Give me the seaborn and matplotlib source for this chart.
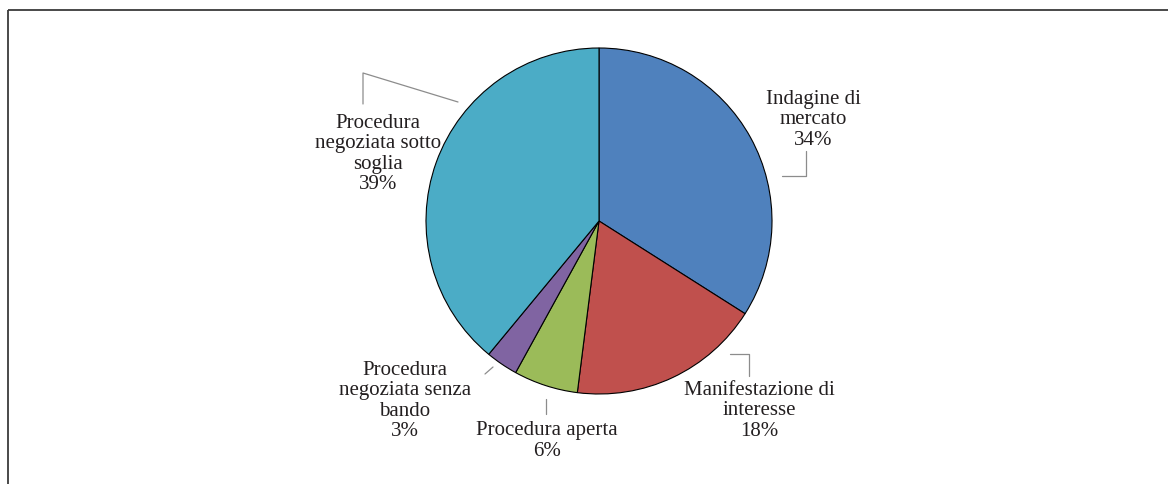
import matplotlib
matplotlib.use("Agg")
import matplotlib.pyplot as plt
import seaborn as sns

categories = ["Indagine di mercato", "Manifestazione di interesse", "Procedura aperta",
              "Procedura negoziata senza bando", "Procedura negoziata sotto soglia"]
values = [34, 18, 6, 3, 39]
label_lines = ["Indagine di\nmercato", "Manifestazione di\ninteresse", "Procedura aperta",
               "Procedura\nnegoziata senza\nbando", "Procedura\nnegoziata sotto\nsoglia"]
colors = ["#4F81BD", "#C0504D", "#9BBB59", "#8064A2", "#4BACC6"]

sns.set_theme(style="white")
plt.rcParams['font.family'] = ['Liberation Serif', 'DejaVu Serif']

W, H = 1168, 485
fig = plt.figure(figsize=(W / 100, H / 100), dpi=100)
ax = fig.add_axes([0, 0, 1, 1])

def Y(y):
    return H - y

ax.pie(values, colors=colors, startangle=90, counterclock=False,
       center=(599, Y(222)), radius=173,
       wedgeprops=dict(edgecolor="black", linewidth=0.8))
ax.set_xlim(0, W)
ax.set_ylim(0, H)
ax.set_aspect("equal")
ax.axis("off")

# label centres (pixel coords)
label_pos = [(813, 120), (759, 411), (547, 441), (405, 401), (378, 154)]
for txt, v, (x, y) in zip(label_lines, values, label_pos):
    ax.text(x, Y(y), f"{txt}\n{v}%", ha="center", va="center", fontsize=15,
            color="#231F20", linespacing=1.08)

# leader lines
leaders = [
    [(806, 152), (806, 177), (782, 177)],
    [(730, 355), (749, 355), (749, 377)],
    [(546, 400), (546, 415)],
    [(485, 375), (493, 368)],
    [(363, 105), (363, 74), (458, 103)],
]
for pts in leaders:
    xs = [p[0] for p in pts]
    ys = [Y(p[1]) for p in pts]
    ax.plot(xs, ys, color="#8C8C8C", linewidth=0.9)

# partial frame (top and left)
ax.plot([7.5, W], [Y(10.5), Y(10.5)], color="#3A3A3A", linewidth=1.3, solid_capstyle="butt")
ax.plot([7.5, 7.5], [Y(10.5), 0], color="#3A3A3A", linewidth=1.3, solid_capstyle="butt")

fig.savefig("out.png", dpi=100, facecolor="white")
